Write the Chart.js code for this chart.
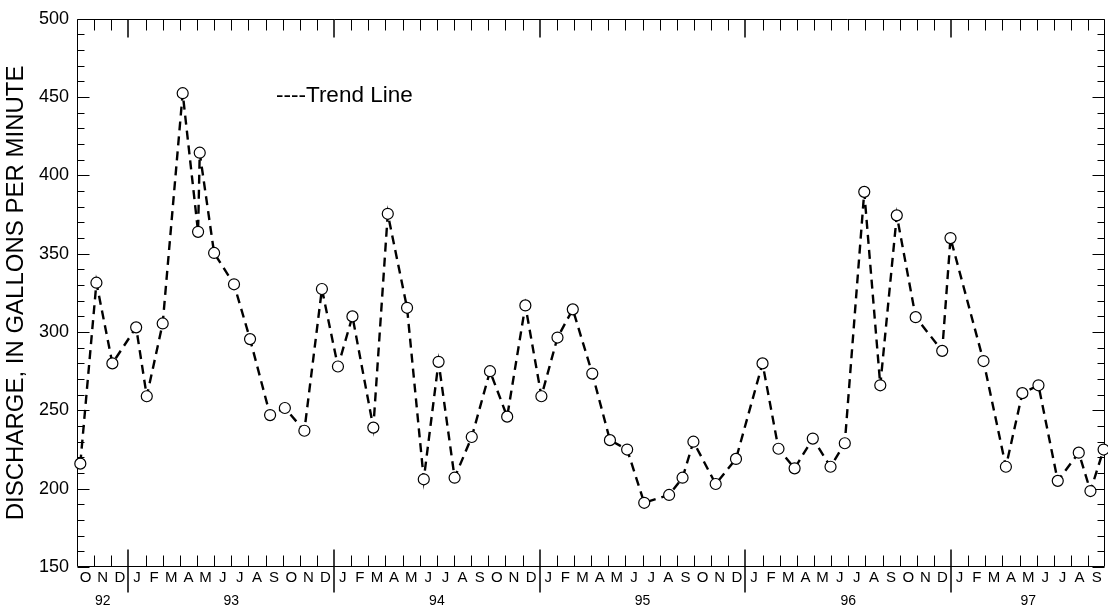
<!DOCTYPE html>
<html><head><meta charset="utf-8">
<script src="https://cdn.jsdelivr.net/npm/chart.js@4.4.1/dist/chart.umd.min.js"></script>
<style>
html,body{margin:0;padding:0;background:#fff;overflow:hidden;width:1108px;height:608px}
#wrap{position:relative;width:1112px;height:608px}
</style></head>
<body><div id="wrap"><canvas id="c" width="1112" height="608"></canvas></div>
<script>
// ---- data ----
const sampleDates = ['1992-10-07','1992-11-05','1992-12-03','1993-01-15','1993-02-03','1993-03-01','1993-04-06','1993-05-03','1993-05-06','1993-06-01','1993-07-06','1993-08-04','1993-09-09','1993-10-05','1993-11-09','1993-12-10','1994-01-08','1994-02-03','1994-03-10','1994-04-05','1994-05-09','1994-06-08','1994-07-04','1994-08-02','1994-09-02','1994-10-04','1994-11-04','1994-12-06','1995-01-04','1995-02-02','1995-02-27','1995-04-03','1995-05-04','1995-06-04','1995-07-04','1995-08-18','1995-09-11','1995-09-30','1995-11-09','1995-12-15','1996-02-01','1996-02-28','1996-03-28','1996-04-29','1996-05-31','1996-06-25','1996-07-30','1996-08-28','1996-09-26','1996-10-30','1996-12-16','1996-12-31','1997-02-26','1997-04-07','1997-05-06','1997-06-04','1997-07-08','1997-08-15','1997-09-05','1997-09-28'];
const discharge = [216,331.5,280,303,259,305.5,452.5,364,414.5,350.5,330.5,295.5,247,251.5,237,327.5,278,310,239,375.5,315.5,206,281,207,233,275,246,317,259,296.5,314.5,273.5,231,225,191,196,207,230,203,219,280,225.5,213,232,214,229,389.5,266,374.5,309.5,288,360,281.5,214,261,266,205,223,198.5,225];
const monthLetters = ['J','F','M','A','M','J','J','A','S','O','N','D'];
const yearLabels = ['92','93','94','95','96','97'];
const yTickValues = [150,200,250,300,350,400,450,500];
const axisStart = {year:1992, month:10};   // Oct 1992
const axisMonths = 60;                     // through Sep 1997
const yTitle = 'DISCHARGE, IN GALLONS PER MINUTE';
const legendText = '----Trend Line';

// ---- helpers ----
function monthPos(s){
  const [y,m,d] = s.split('-').map(Number);
  const dim = new Date(y, m, 0).getDate();
  return (y-axisStart.year)*12 + (m-axisStart.month) + (d-1)/dim;
}
const points = sampleDates.map((d,i)=>({x:monthPos(d), y:discharge[i]}));
const monthCenters = [], monthLabels = [];
for(let i=0;i<axisMonths;i++){ monthCenters.push(i+0.5); monthLabels.push(monthLetters[(i+axisStart.month-1)%12]); }
const yearCenters = yearLabels.map((lab,k)=>{
  const yr = axisStart.year + k;
  const s = Math.max(0,(yr-axisStart.year)*12 - (axisStart.month-1));
  const e = Math.min(axisMonths, s===0 ? 12-(axisStart.month-1) : s+12);
  return (s+e)/2;
});

const FONT = "'Liberation Sans', Arial, Helvetica, sans-serif";

const frameTicks = {
  id:'frameTicks',
  beforeDatasetsDraw(chart){
    const {ctx, chartArea:ca, scales:{x,y}} = chart;
    const L=Math.round(ca.left)+0.5, R=Math.round(ca.right)-0.5, T=Math.round(ca.top)+0.5, B=Math.round(ca.bottom)-0.5;
    ctx.save();
    ctx.strokeStyle='#000'; ctx.lineWidth=1;
    ctx.beginPath();
    ctx.moveTo(L,T); ctx.lineTo(R,T); ctx.lineTo(R,B); ctx.lineTo(L,B); ctx.closePath();
    for(let v=150; v<=500; v+=10){
      const py=Math.round(y.getPixelForValue(v))+0.5;
      const len = v%50===0 ? 12 : 7;
      ctx.moveTo(L,py); ctx.lineTo(L+len,py);
      ctx.moveTo(R,py); ctx.lineTo(R-len,py);
    }
    for(let m=1; m<axisMonths; m++){
      if((m+axisStart.month-1)%12===0) continue;
      const px=Math.round(x.getPixelForValue(m))+0.5;
      ctx.moveTo(px,B); ctx.lineTo(px,B-11);
      ctx.moveTo(px,T); ctx.lineTo(px,T+11);
    }
    ctx.stroke();
    ctx.beginPath(); ctx.lineWidth=1.5;
    for(let m=1; m<axisMonths; m++){
      if((m+axisStart.month-1)%12!==0) continue;
      const px=Math.round(x.getPixelForValue(m));
      ctx.moveTo(px,B-17); ctx.lineTo(px,B+26);
      ctx.moveTo(px,T); ctx.lineTo(px,T+18);
    }
    ctx.stroke();
    ctx.restore();
  },
  afterDraw(chart){
    const {ctx} = chart;
    ctx.save();
    ctx.fillStyle='#000'; ctx.font='22.5px '+FONT; ctx.textBaseline='middle'; ctx.textAlign='left';
    ctx.fillText(legendText, 276, 96);
    ctx.restore();
  }
};

new Chart(document.getElementById('c'), {
  type:'line',
  data:{datasets:[{
    data:points,
    borderColor:'#000', borderWidth:2.4, borderDash:[9,6], tension:0,
    pointRadius:5.5, pointBackgroundColor:'#fff', pointBorderColor:'#000', pointBorderWidth:1.2,
    clip:false
  }]},
  options:{
    responsive:false, animation:false, devicePixelRatio:1,
    layout:{padding:{left:0,top:14,right:2,bottom:0}},
    plugins:{legend:{display:false}, tooltip:{enabled:false}},
    scales:{
      x:{type:'linear', position:'bottom', min:0, max:axisMonths,
        border:{display:false}, grid:{display:false, drawTicks:false},
        ticks:{autoSkip:false, maxRotation:0, minRotation:0, padding:2, color:'#000', font:{family:FONT,size:15},
          callback:(v,i)=>monthLabels[i]},
        afterBuildTicks:s=>{s.ticks=monthCenters.map(v=>({value:v}));},
        afterFit:s=>{s.height=20;}
      },
      x2:{type:'linear', position:'bottom', min:0, max:axisMonths,
        border:{display:false}, grid:{display:false, drawTicks:false},
        ticks:{autoSkip:false, maxRotation:0, minRotation:0, padding:6, color:'#000', font:{family:FONT,size:14},
          callback:(v,i)=>yearLabels[i]},
        afterBuildTicks:s=>{s.ticks=yearCenters.map(v=>({value:v}));},
        afterFit:s=>{s.height=21;}
      },
      y:{type:'linear', position:'left', min:150, max:500,
        border:{display:false}, grid:{display:false, drawTicks:false},
        ticks:{padding:8, color:'#000', font:{family:FONT,size:18}},
        afterBuildTicks:s=>{s.ticks=yTickValues.map(v=>({value:v}));},
        title:{display:true, text:yTitle, color:'#000', font:{family:FONT,size:24}, padding:{top:2,bottom:0}},
        afterFit:s=>{s.width=77;}
      }
    }
  },
  plugins:[frameTicks]
});
</script>
</body></html>
